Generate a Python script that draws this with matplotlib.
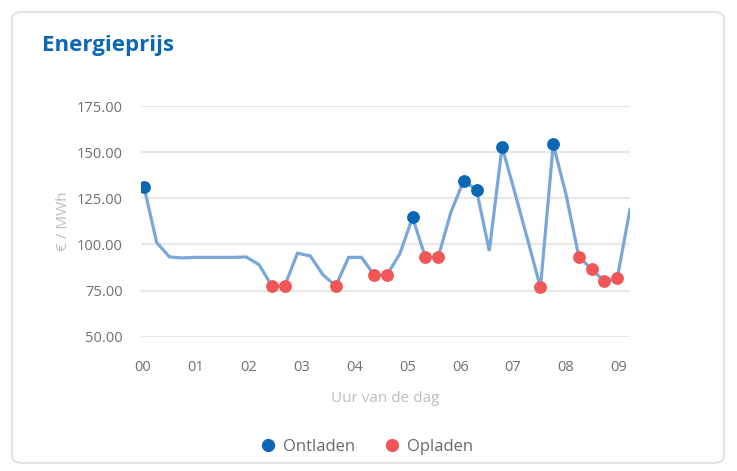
import matplotlib
matplotlib.use("Agg")
import matplotlib.pyplot as plt
from matplotlib.patches import FancyBboxPatch
from matplotlib.lines import Line2D
import numpy as np

# ---- data ----
prices = [131.2, 101.0, 93.2, 92.7, 93.0, 93.0, 93.0, 93.0, 93.2, 89.0,
          77.5, 77.5, 95.2, 93.8, 83.5, 77.5, 93.0, 93.0, 83.5, 83.5,
          94.8, 114.6, 93.0, 93.0, 117.5, 134.5, 129.5, 96.5, 152.9, 128.0,
          102.5, 76.7, 154.3, 127.0, 93.3, 86.6, 80.0, 81.6, 119.0]
ontladen_idx = [0, 21, 25, 26, 28, 32]
opladen_idx = [10, 11, 15, 18, 19, 22, 23, 31, 34, 35, 36, 37]
hour_labels = ["00", "01", "02", "03", "04", "05", "06", "07", "08", "09"]
y_ticks = [50, 75, 100, 125, 150, 175]

title = "Energieprijs"
ylabel = "€ / MWh"
xlabel = "Uur van de dag"
legend_labels = ["Ontladen", "Opladen"]

# ---- style ----
FONT = "Open Sans"
line_col = "#7aa7d9"
blue = "#0a67b5"
red = "#f05656"
tick_col = "#707070"
label_col = "#bdbdbd"
grid_col = "#e8e8e8"

W, H = 737, 471
fig = plt.figure(figsize=(W / 100, H / 100), dpi=100)
fig.patch.set_facecolor("white")

# card
card = FancyBboxPatch((12 / W, 8 / H), (724 - 12) / W, (459 - 8) / H,
                      boxstyle="round,pad=0,rounding_size=0.015",
                      transform=fig.transFigure, facecolor="white",
                      edgecolor="#e2e2e2", linewidth=1.5, zorder=-5)
fig.patches.append(card)

fig.text(42 / W, 1 - 46 / H, title, fontsize=16, fontweight="bold",
         color="#0b68b4", family=FONT, va="center", ha="left", zorder=5)

ax = fig.add_axes([141 / W, 1 - 336.7 / H, (630 - 141) / W, (336.7 - 106) / H])
ax.set_zorder(3)
ax.set_facecolor("none")

x = np.arange(len(prices))
ax.plot(x, prices, color=line_col, lw=2.3, zorder=3, solid_joinstyle="miter")
ax.scatter([x[i] for i in ontladen_idx], [prices[i] for i in ontladen_idx],
           s=85, color=blue, zorder=4, linewidths=0)
ax.scatter([x[i] for i in opladen_idx], [prices[i] for i in opladen_idx],
           s=85, color=red, zorder=4, linewidths=0)

ax.set_ylim(50, 175)
ax.set_xlim(-0.23, len(prices) - 1)
ax.set_yticks(y_ticks)
ax.set_yticklabels([f"{v:.2f}" for v in y_ticks])
tick_pos = np.linspace(-0.08, 37.12, len(hour_labels))
ax.set_xticks(tick_pos)
ax.set_xticklabels(hour_labels)

for v in y_ticks:
    ax.axhline(v, color=grid_col, lw=1.6, zorder=1)

for s in ax.spines.values():
    s.set_visible(False)
ax.tick_params(axis="both", length=0, colors=tick_col, labelsize=10.5)
ax.tick_params(axis="y", pad=13)
ax.tick_params(axis="x", pad=17)
for lab in ax.get_xticklabels() + ax.get_yticklabels():
    lab.set_family(FONT)

ax.set_ylabel(ylabel, color=label_col, fontsize=11, family=FONT, labelpad=4)
ax.set_xlabel(xlabel, color=label_col, fontsize=11, family=FONT, labelpad=11)

handles = [Line2D([], [], marker="o", ls="", color=blue, markersize=8.5),
           Line2D([], [], marker="o", ls="", color=red, markersize=8.5)]
leg = fig.legend(handles, legend_labels, loc="center", bbox_to_anchor=(364 / W, 1 - 447 / H),
                 ncol=2, frameon=False, handletextpad=0.1, columnspacing=1.4,
                 handlelength=1.6, prop={"family": FONT, "size": 12})
for t in leg.get_texts():
    t.set_color("#6a6a6a")

fig.savefig("out.png", dpi=100, facecolor="white")
